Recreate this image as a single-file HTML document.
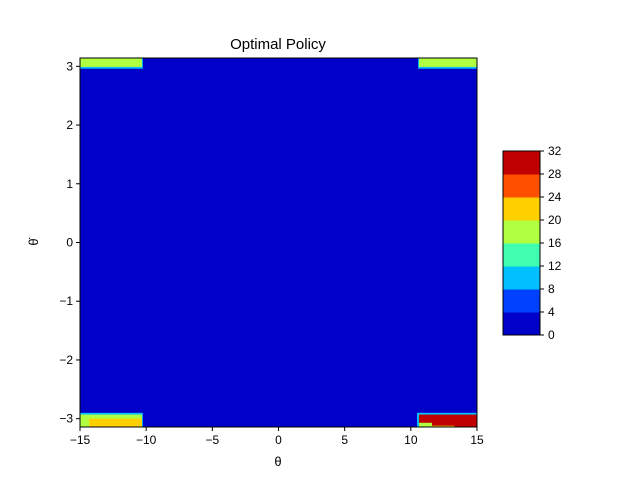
<!DOCTYPE html>
<html><head><meta charset="utf-8"><style>body{margin:0;background:#fff}svg text{font-family:"Liberation Sans","DejaVu Sans",sans-serif}</style></head>
<body>
<svg id="c" width="640" height="480" xmlns="http://www.w3.org/2000/svg">
<rect width="640" height="480" fill="#fff"/>
<text x="278" y="49" font-size="15" text-anchor="middle">Optimal Policy</text>
<g id="plot"></g><g id="axes"></g><g id="cbar"></g>
<text x="278" y="466" font-size="13" text-anchor="middle">θ</text>
<text x="38" y="242" font-size="13" text-anchor="middle" transform="rotate(-90 38 242)">θ̇</text>
</svg>
<script>
const levels=[0,4,8,12,16,20,24,28,32];
const levelColors=["#0000c8","#0040ff","#00c0ff","#40ffb0","#b0ff40","#ffd000","#ff5000","#c00000"];
const xTicks=[-15,-10,-5,0,5,10,15];
const xTickLabels=["−15","−10","−5","0","5","10","15"];
const yTicks=[-3,-2,-1,0,1,2,3];
const yTickLabels=["−3","−2","−1","0","1","2","3"];
// patches: [theta0, theta1, omega0, omega1, value]
const patches=[
 [-15,-10.25,2.96,3.1416,10],
 [-15,-10.32,2.99,3.1416,18],
 [10.55,15,2.96,3.1416,10],
 [10.62,15,2.99,3.1416,18],
 [-15,-10.25,-3.1416,-2.90,10],
 [-15,-10.32,-3.1416,-2.93,18],
 [-14.3,-10.32,-3.1416,-3.0,22],
 [10.47,15,-3.1416,-2.90,10],
 [10.62,15,-3.1416,-2.93,30],
 [10.62,11.6,-3.1416,-3.07,18],
 [11.6,13.3,-3.1416,-3.12,22]
];
const NS="http://www.w3.org/2000/svg";
const X0=80,X1=477,Y0=58,Y1=427;
const sx=v=>X0+(v+15)/30*(X1-X0);
const sy=v=>Y1-(v+Math.PI)/(2*Math.PI)*(Y1-Y0);
const colorOf=v=>{for(let i=0;i<levels.length-1;i++) if(v<levels[i+1]) return levelColors[i]; return levelColors[levelColors.length-1];};
function mk(t,a,p){const e=document.createElementNS(NS,t);for(const k in a)e.setAttribute(k,a[k]);p.appendChild(e);return e;}
const plot=document.getElementById('plot'),axes=document.getElementById('axes'),cb=document.getElementById('cbar');
let bg=mk('rect',{x:X0,y:Y0,width:X1-X0,height:Y1-Y0,fill:colorOf(0)},plot);


patches.forEach(p=>{const x=sx(p[0]),x2=sx(p[1]),y=sy(p[3]),y2=sy(p[2]);
 const r=mk('rect',{x:x,y:y,width:x2-x,height:y2-y,fill:colorOf(p[4])},plot);
 
 });
let fr=mk('rect',{x:X0,y:Y0,width:X1-X0,height:Y1-Y0,fill:'none',stroke:'#000','stroke-width':1},axes);


xTicks.forEach((v,i)=>{const x=sx(v);mk('line',{x1:x,x2:x,y1:Y1,y2:Y1+4,stroke:'#000'},axes);
 const t=mk('text',{x:x,y:Y1+17,'font-size':12,'text-anchor':'middle'},axes);t.textContent=xTickLabels[i];
 
 });
yTicks.forEach((v,i)=>{const y=sy(v);mk('line',{x1:X0-4,x2:X0,y1:y,y2:y,stroke:'#000'},axes);
 const t=mk('text',{x:X0-7,y:y+4,'font-size':12,'text-anchor':'end'},axes);t.textContent=yTickLabels[i];
 
 });
const CX=503,CW=37,CT=151,CB=335,n=levelColors.length,h=(CB-CT)/n;
levelColors.forEach((c,i)=>{const r=mk('rect',{x:CX,y:CB-(i+1)*h,width:CW,height:h+0.5,fill:c},cb);
 
 });
mk('rect',{x:CX,y:CT,width:CW,height:CB-CT,fill:'none',stroke:'#000'},cb);
levels.forEach((v,i)=>{const y=CB-i*h;mk('line',{x1:CX+CW,x2:CX+CW+4,y1:y,y2:y,stroke:'#000'},cb);
 const t=mk('text',{x:CX+CW+8,y:y+4,'font-size':12},cb);t.textContent=v;
 
 });
</script>
</body></html>
